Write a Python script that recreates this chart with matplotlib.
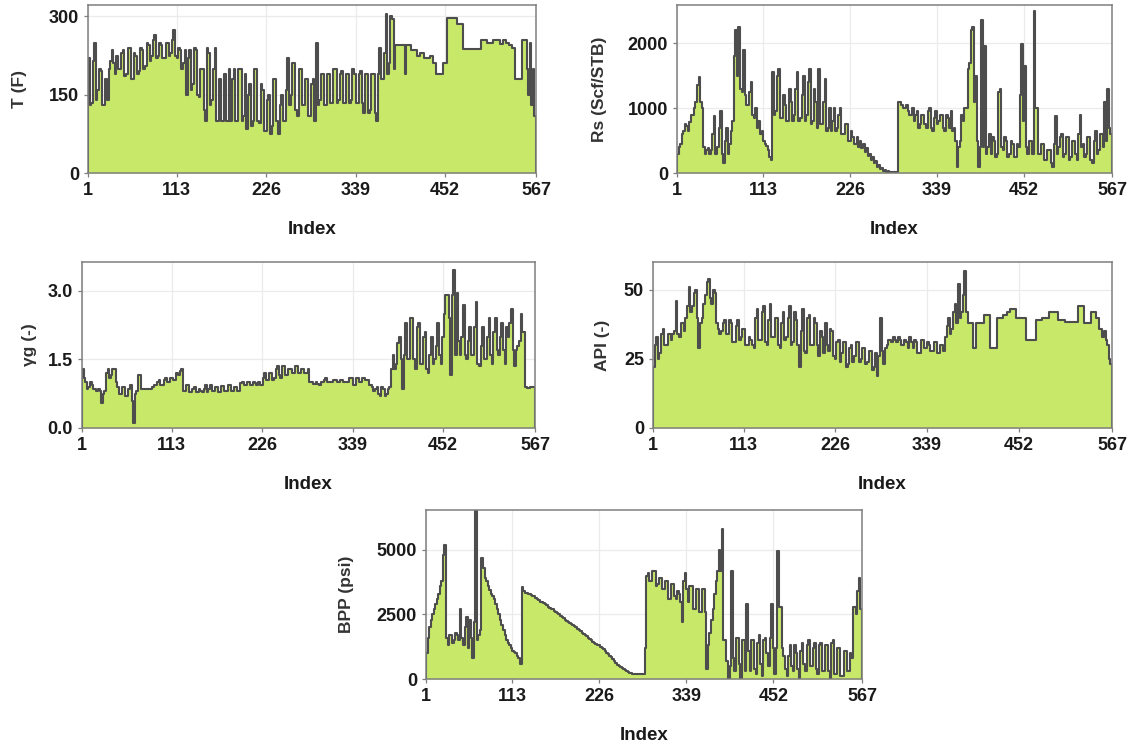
import matplotlib
matplotlib.use("Agg")
import matplotlib.pyplot as plt   # noqa: E402
import numpy as np                # noqa: E402

# values read every 2nd sample (index 1, 3, 5, ... 565), step-held to 567
IDX = np.arange(1, 567, 2)
N_LAST = 567

T_F = [
    220, 130, 135, 215, 250, 140, 160, 200, 195, 130,
    130, 180, 140, 200, 215, 235, 210, 190, 225, 200,
    200, 230, 235, 185, 190, 240, 240, 180, 180, 230,
    225, 190, 195, 240, 235, 200, 205, 250, 245, 215,
    225, 255, 265, 220, 225, 250, 245, 220, 220, 250,
    250, 225, 230, 255, 275, 225, 220, 240, 235, 200,
    210, 235, 150, 220, 235, 160, 170, 240, 235, 150,
    145, 200, 200, 120, 100, 240, 230, 130, 140, 200,
    240, 100, 100, 180, 100, 100, 190, 100, 100, 200,
    100, 180, 200, 100, 100, 200, 200, 100, 110, 190,
    85, 150, 170, 90, 100, 200, 200, 100, 95, 170,
    160, 80, 80, 140, 150, 75, 90, 180, 180, 100,
    75, 130, 150, 100, 100, 160, 220, 130, 150, 210,
    210, 120, 110, 200, 200, 130, 130, 180, 180, 110,
    110, 170, 180, 100, 250, 130, 140, 190, 190, 130,
    130, 190, 190, 135, 135, 200, 200, 135, 140, 190,
    195, 135, 135, 190, 190, 135, 140, 200, 190, 135,
    135, 190, 195, 135, 115, 190, 190, 115, 120, 190,
    190, 115, 100, 190, 240, 180, 180, 230, 305, 190,
    210, 300, 295, 200, 245, 245, 245, 245, 245, 245,
    190, 245, 245, 245, 235, 235, 235, 235, 225, 225,
    230, 230, 220, 220, 220, 220, 225, 225, 210, 210,
    190, 190, 190, 190, 210, 210, 210, 297, 297, 297,
    297, 297, 297, 285, 285, 285, 285, 238, 238, 238,
    238, 238, 238, 238, 238, 238, 238, 238, 255, 255,
    255, 255, 250, 250, 250, 250, 255, 255, 255, 255,
    248, 248, 255, 255, 250, 250, 245, 245, 240, 240,
    180, 180, 180, 180, 255, 255, 255, 200, 150, 250,
    130, 200, 110,
]

RS = [
    300, 400, 450, 600, 650, 750, 720, 650, 780, 900,
    900, 1000, 1100, 1350, 1480, 1100, 1000, 400, 300, 350,
    380, 300, 350, 600, 880, 300, 400, 700, 950, 300,
    150, 500, 700, 300, 450, 650, 800, 1800, 2200, 1500,
    2250, 1300, 1250, 1900, 1200, 1050, 1050, 1250, 1400, 900,
    850, 1000, 700, 800, 600, 650, 500, 450, 420, 350,
    250, 200, 1550, 900, 950, 1500, 1600, 850, 850, 1200,
    1050, 800, 800, 1300, 1100, 800, 900, 1300, 1550, 800,
    850, 1200, 1500, 800, 900, 1400, 1600, 750, 800, 1300,
    1100, 700, 1600, 750, 750, 1100, 1450, 650, 700, 1000,
    650, 800, 1000, 650, 700, 900, 1000, 600, 600, 750,
    750, 500, 500, 650, 550, 450, 450, 550, 400, 500,
    380, 450, 320, 380, 260, 300, 200, 250, 150, 180,
    100, 130, 60, 80, 30, 40, 20, 25, 15, 15,
    10, 10, 10, 10, 1100, 1100, 1050, 1000, 1000, 1050,
    950, 900, 900, 1000, 800, 900, 950, 700, 750, 900,
    900, 750, 700, 950, 1000, 700, 650, 850, 950, 750,
    800, 900, 900, 700, 650, 900, 850, 700, 950, 650,
    700, 500, 100, 400, 500, 900, 800, 1000, 1000, 1600,
    1700, 2200, 2250, 1100, 1500, 500, 100, 400, 2350, 400,
    1950, 300, 400, 600, 300, 550, 500, 250, 300, 1250,
    1300, 400, 350, 550, 500, 250, 300, 500, 450, 250,
    250, 450, 400, 1200, 1980, 800, 1650, 400, 300, 500,
    500, 300, 2500, 1000, 1000, 300, 300, 450, 450, 200,
    200, 350, 350, 150, 100, 450, 870, 300, 400, 550,
    600, 250, 300, 550, 550, 200, 250, 500, 500, 300,
    200, 600, 900, 400, 450, 250, 300, 550, 550, 200,
    150, 500, 650, 300, 350, 600, 600, 400, 1100, 500,
    1300, 700, 600,
]

GG = [
    1.3, 1.1, 1.0, 0.85, 0.9, 1.0, 0.95, 0.85, 0.85, 0.8,
    0.85, 0.8, 0.55, 0.75, 0.8, 1.2, 1.3, 1.1, 1.15, 1.3,
    1.3, 1.0, 0.9, 0.75, 0.75, 0.9, 0.9, 0.7, 0.7, 0.85,
    0.95, 0.6, 0.1, 0.75, 0.8, 1.15, 1.15, 0.85, 0.85, 0.85,
    0.85, 0.85, 0.85, 0.85, 0.9, 0.95, 0.95, 1.0, 1.05, 0.95,
    0.95, 1.05, 1.1, 1.0, 1.0, 1.1, 1.1, 1.05, 1.05, 1.2,
    1.15, 1.25, 1.3, 0.8, 0.8, 0.95, 0.95, 0.78, 0.78, 0.85,
    0.9, 0.78, 0.78, 0.85, 0.8, 0.78, 0.85, 0.95, 0.78, 0.85,
    0.95, 0.8, 0.8, 0.9, 0.9, 0.78, 0.78, 0.92, 0.92, 0.8,
    0.8, 0.95, 0.95, 0.82, 0.82, 0.9, 0.9, 0.8, 0.8, 0.98,
    1.0, 0.95, 0.95, 1.0, 1.0, 0.95, 0.95, 1.0, 0.98, 0.95,
    1.0, 0.95, 0.95, 1.1, 1.2, 1.05, 1.05, 1.2, 1.2, 1.05,
    1.1, 1.3, 1.35, 1.15, 1.1, 1.35, 1.35, 1.15, 1.15, 1.3,
    1.3, 1.2, 1.2, 1.35, 1.35, 1.2, 1.2, 1.3, 1.3, 1.2,
    1.2, 1.3, 1.0, 1.0, 0.97, 0.97, 1.0, 0.97, 0.95, 1.0,
    1.0, 1.05, 1.1, 1.0, 1.0, 1.0, 1.0, 1.05, 1.05, 1.0,
    1.0, 1.05, 1.05, 1.0, 1.0, 1.0, 1.0, 1.1, 1.1, 0.95,
    0.95, 1.1, 1.1, 1.0, 1.0, 1.1, 1.1, 1.05, 1.05, 0.95,
    0.95, 0.9, 0.8, 0.85, 0.9, 0.75, 0.7, 0.9, 0.85, 0.7,
    0.75, 0.85, 0.9, 1.3, 1.6, 1.3, 1.4, 1.85, 2.0, 1.5,
    0.85, 1.6, 2.3, 1.5, 1.5, 2.4, 2.4, 1.5, 1.3, 2.2,
    2.3, 1.4, 1.4, 2.0, 2.1, 1.3, 1.2, 1.6, 2.0, 1.4,
    1.5, 1.8, 2.3, 1.6, 1.4, 2.0, 2.5, 2.9, 2.9, 2.4,
    1.15, 2.9, 3.45, 1.6, 2.95, 1.9, 1.6, 2.0, 2.7, 1.6,
    1.5, 1.9, 2.2, 1.6, 1.6, 2.2, 2.75, 1.4, 1.35, 1.8,
    2.2, 1.5, 1.5, 2.0, 2.4, 1.6, 1.4, 2.1, 2.4, 1.7,
    1.6, 2.0, 2.3, 1.7, 1.4, 2.2, 2.0, 2.3, 2.6, 1.7,
    1.35, 1.7, 1.8, 1.9, 2.5, 2.1, 2.1, 0.9, 0.88, 0.88,
    0.9, 0.9, 0.9,
]

API = [
    22, 30, 33, 25, 27, 34, 36, 30, 30, 34,
    34, 32, 34, 35, 46, 34, 33, 38, 38, 35,
    40, 44, 51, 42, 44, 49, 50, 40, 29, 38,
    40, 45, 48, 53, 54, 47, 45, 50, 49, 38,
    36, 34, 35, 38, 39, 34, 34, 39, 38, 31,
    31, 37, 39, 32, 33, 36, 36, 30, 30, 33,
    32, 30, 29, 40, 43, 32, 32, 42, 44, 31,
    30, 39, 45, 33, 33, 40, 40, 30, 29, 38,
    42, 32, 33, 40, 44, 30, 31, 42, 39, 30,
    22, 35, 43, 28, 27, 40, 41, 30, 30, 40,
    38, 30, 26, 35, 33, 27, 38, 30, 28, 36,
    35, 26, 25, 31, 32, 24, 27, 31, 31, 22,
    23, 29, 30, 24, 26, 31, 31, 24, 25, 29,
    29, 23, 24, 28, 28, 21, 22, 27, 19, 26,
    40, 28, 23, 29, 30, 32, 32, 31, 33, 32,
    31, 33, 32, 30, 30, 32, 31, 29, 33, 31,
    29, 32, 31, 27, 27, 32, 32, 29, 29, 31,
    30, 28, 28, 31, 31, 27, 27, 30, 30, 28,
    33, 37, 40, 34, 36, 42, 45, 38, 52, 40,
    42, 48, 57, 42, 38, 38, 38, 29, 29, 38,
    38, 38, 38, 38, 41, 41, 41, 41, 29, 29,
    29, 29, 40, 40, 40, 40, 41, 41, 42, 42,
    43, 43, 43, 43, 40, 40, 40, 40, 40, 40,
    32, 32, 32, 32, 32, 32, 39, 39, 39, 39,
    40, 40, 40, 40, 42, 42, 42, 42, 42, 42,
    39, 39, 39, 39, 38.5, 38.5, 38.5, 38.5, 38.5, 38.5,
    38.5, 38.5, 44, 44, 44, 44, 38, 38, 38, 38,
    42, 42, 42, 40, 40, 36, 36, 33, 35, 32,
    30, 25, 23,
]

BPP = [
    1000, 1600, 2000, 2300, 2500, 2700, 2900, 3100, 3300, 3600,
    3800, 4800, 5200, 1600, 1300, 1700, 1700, 1400, 1500, 1800,
    1700, 1500, 2700, 1600, 1300, 2000, 2400, 1200, 2300, 1600,
    800, 2200, 6800, 1500, 1700, 1900, 4700, 4300, 3900, 3800,
    3600, 3450, 3300, 3200, 3100, 2900, 2700, 2500, 2300, 2100,
    1900, 1700, 1500, 1400, 1300, 1200, 1100, 1050, 1000, 900,
    800, 600, 3550, 3400, 3350, 3320, 3300, 3280, 3250, 3220,
    3200, 3150, 3100, 3050, 3000, 2980, 2950, 2900, 2850, 2800,
    2750, 2720, 2700, 2650, 2600, 2550, 2500, 2450, 2400, 2350,
    2300, 2250, 2200, 2180, 2150, 2100, 2050, 2000, 1950, 1900,
    1850, 1800, 1750, 1700, 1650, 1600, 1550, 1500, 1450, 1400,
    1350, 1320, 1300, 1250, 1200, 1150, 1100, 1000, 950, 900,
    850, 780, 700, 620, 550, 500, 450, 420, 380, 340,
    300, 270, 250, 220, 200, 200, 200, 200, 200, 200,
    200, 200, 1200, 4000, 4100, 3800, 3800, 4200, 4200, 3600,
    3700, 3900, 3900, 3500, 3500, 3800, 3800, 3100, 3100, 3700,
    3700, 3200, 3100, 3400, 3300, 3000, 2200, 3800, 4100, 3500,
    3000, 3600, 3600, 2700, 2700, 3500, 3500, 2600, 2600, 3500,
    3500, 2600, 400, 1300, 1800, 2300, 2700, 3300, 3800, 4200,
    5000, 4200, 5800, 1500, 1500, 700, 0, 500, 4200, 800,
    300, 1600, 1600, 600, 0, 1500, 1500, 300, 2900, 1100,
    300, 1500, 1500, 400, 200, 1400, 1700, 600, 100, 1500,
    1600, 1000, 500, 1600, 2900, 1200, 200, 1200, 4950, 2800,
    2800, 1200, 900, 400, 100, 900, 1300, 500, 300, 1300,
    1000, 400, 0, 1100, 1400, 600, 300, 1300, 1500, 500,
    500, 1200, 1400, 400, 200, 1300, 1400, 300, 300, 1300,
    1300, 300, 0, 1400, 1500, 200, 200, 1200, 1200, 100,
    100, 1100, 1100, 300, 300, 1000, 800, 2800, 2800, 2500,
    3400, 3900, 2700,
]

XTICKS = [1, 113, 226, 339, 452, 567]

PANELS = [
    # values, y label, y ticks, y top, box (left, top, right, bottom) px, y label x px
    (T_F, "T (F)", [0, 150, 300], 322, (88, 5, 536, 173), 20),
    (RS, "Rs (Scf/STB)", [0, 1000, 2000], 2585, (677, 5, 1112, 173), 600),
    (GG, "\u03b3g (-)", [0.0, 1.5, 3.0], 3.63, (82, 262, 535, 428), 30),
    (API, "API (-)", [0, 25, 50], 60.1, (653, 262, 1112, 428), 603),
    (BPP, "BPP (psi)", [0, 2500, 5000], 6550, (426, 510, 862, 679), 347),
]

FILL = "#C8E86A"
LINE = "#4D4D4D"
W, H = 1134, 747

plt.rcParams["font.family"] = ["Liberation Sans", "DejaVu Sans"]
plt.rcParams["font.weight"] = "bold"

fig = plt.figure(figsize=(W / 100, H / 100), dpi=100)

for vals, ylab, yt, ytop, (l, t, r, b), ylx in PANELS:
    ax = fig.add_axes([l / W, 1 - b / H, (r - l) / W, (b - t) / H])
    y = np.array(vals, dtype=float)
    x = np.append(IDX, N_LAST)
    y = np.append(y, y[-1])
    ax.fill_between(x, y, 0, step="post", color=FILL, lw=0, zorder=2)
    # outline incl. the vertical edges down to zero
    xo = np.concatenate([[x[0]], x, [x[-1]]])
    yo = np.concatenate([[0], y, [0]])
    ax.step(xo, yo, where="post", color=LINE, lw=1.5, zorder=3)

    ax.set_xlim(1, N_LAST)
    ax.set_ylim(0, ytop)
    ax.set_xticks(XTICKS)
    ax.set_yticks(yt)
    if isinstance(yt[1], float):
        ax.set_yticklabels([f"{v:.1f}" for v in yt])
    ax.grid(True, color="#EBEBEB", lw=0.9, zorder=0)
    ax.set_axisbelow(True)
    for sp in ax.spines.values():
        sp.set_color("#7F7F7F")
        sp.set_linewidth(1.1)
        sp.set_zorder(4)
    ax.tick_params(length=3, width=0.9, color="#7F7F7F", labelsize=13,
                   labelcolor="#1A1A1A", pad=3.5)
    ax.set_xlabel("Index", fontsize=13.5, fontweight="bold",
                  color="#1A1A1A", labelpad=16)
    ax.set_ylabel(ylab, fontsize=12.5, fontweight="bold", color="#333333")
    ax.yaxis.set_label_coords((ylx + 7 - l) / (r - l), 0.5)

fig.savefig("out.png", dpi=100)
